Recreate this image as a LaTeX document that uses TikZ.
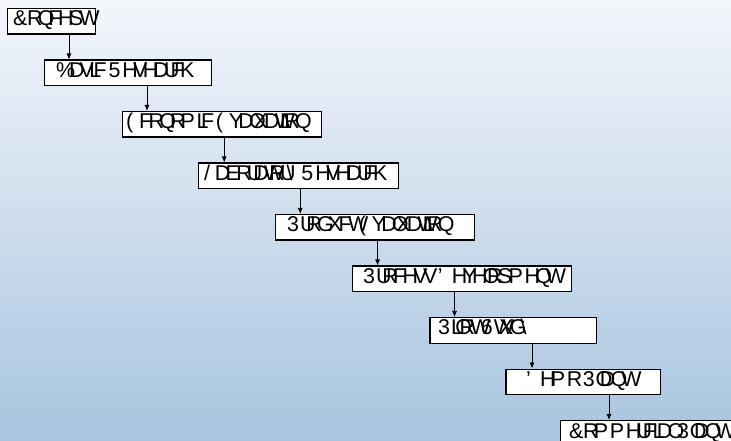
\documentclass[tikz,border=0pt]{standalone}
\usepackage{fontspec}
\setmainfont{Liberation Sans}
\usetikzlibrary{arrows.meta}
\ExplSyntaxOn
\box_new:N \l_gbx_box
\dim_new:N \l_gbx_dim
\cs_new_protected:Npn \gbx_char:n #1
  {
    \str_if_eq:nnTF {#1} { ~ }
      { \kern 0.2494em }
      {
        \hbox_set:Nn \l_gbx_box {#1}
        \dim_set:Nn \l_gbx_dim { 0.8977 \box_wd:N \l_gbx_box }
        \hbox_to_wd:nn { \l_gbx_dim }
          { \char \int_eval:n { `#1 - 29 } \hss }
      }
  }
\NewDocumentCommand \garble { m }
  { \str_map_inline:nn {#1} { \gbx_char:n {##1} } }
\ExplSyntaxOff
\definecolor{bgtop}{RGB}{243,246,251}
\definecolor{bgbot}{RGB}{168,196,224}
\begin{document}
\begin{tikzpicture}[x=1bp,y=-1bp,
  box/.style={draw=black, line width=1.1bp, fill=white, inner sep=0pt,
              anchor=north west, minimum height=25.5bp},
  lbl/.style={inner sep=0pt, anchor=base west, font=\fontsize{21.5}{22}\selectfont},
  arr/.style={line width=0.9bp, -{Latex[length=6bp,width=5bp]}}]
\useasboundingbox (0,0) rectangle (731,441);
\clip (0,0) rectangle (731,441);
\shade[top color=bgtop, bottom color=bgbot] (0,0) rectangle (731,441);

\node[box, minimum width=88.5bp]  (b1) at (6.5,8) {};
\node[box, minimum width=166.9bp] (b2) at (43.8,59.5) {};
\node[box, minimum width=199bp]   (b3) at (121.7,111) {};
\node[box, minimum width=200.3bp] (b4) at (197.7,162.5) {};
\node[box, minimum width=198.7bp] (b5) at (275,214) {};
\node[box, minimum width=218.6bp] (b6) at (352,265.5) {};
\node[box, minimum width=166.4bp] (b7) at (429.4,317) {};
\node[box, minimum width=154.6bp] (b8) at (505.4,368.5) {};
\node[box, minimum width=185bp]   (b9) at (560,420) {};

\node[lbl] (t1) at (13,26)    {\garble{Concept}};
\node[lbl] (t2) at (56,77.5)  {\garble{Basic Research}};
\node[lbl] (t3) at (126,129)  {\garble{Economic Evaluation}};
\node[lbl] (t4) at (204,180.5){\garble{Laboratory Research}};
\node[lbl] (t5) at (287,232)  {\garble{Product Evaluation}};
\node[lbl] (t6) at (363,283.5){\garble{Process Development}};
\node[lbl] (t7) at (438,335)  {\garble{Pilot Study}};
\node[lbl] (t8) at (526,386.5){\garble{Demo Plant}};
\node[lbl] (t9) at (569,438)  {\garble{Commercial Plant}};

\draw[arr] (b1.south -| 69,0)    -- (b2.north -| 69,0);
\draw[arr] (b2.south -| 147,0)   -- (b3.north -| 147,0);
\draw[arr] (b3.south -| 224.2,0) -- (b4.north -| 224.2,0);
\draw[arr] (b4.south -| 300.2,0) -- (b5.north -| 300.2,0);
\draw[arr] (b5.south -| 377.6,0) -- (b6.north -| 377.6,0);
\draw[arr] (b6.south -| 454.5,0) -- (b7.north -| 454.5,0);
\draw[arr] (b7.south -| 532,0)   -- (b8.north -| 532,0);
\draw[arr] (b8.south -| 609,0)   -- (b9.north -| 609,0);
\end{tikzpicture}
\end{document}
